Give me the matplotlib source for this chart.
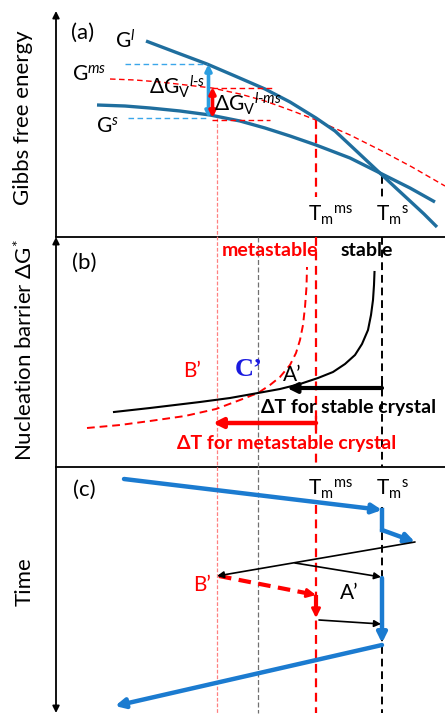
import matplotlib
matplotlib.use("Agg")
import matplotlib.pyplot as plt

plt.rcParams['font.family'] = ['Lato', 'DejaVu Sans']
plt.rcParams['mathtext.fontset'] = 'custom'
plt.rcParams['mathtext.rm'] = 'Lato'
plt.rcParams['mathtext.it'] = 'Lato:italic'
plt.rcParams['mathtext.bf'] = 'Lato:bold'

# ---------------- data (schematic; pixel-like units) ----------------
# (a) Gibbs free energy curves
gl_x = [146, 175, 207, 235, 265, 290, 316, 335, 350, 366, 382, 397, 410, 424, 437]
gl_y = [41, 52, 64, 76, 89, 102, 118, 131, 145, 160, 175, 189, 201, 214, 227]
gs_x = [97, 125, 150, 180, 210, 240, 265, 290, 316, 350, 382, 410, 435]
gs_y = [105, 106, 108, 111, 115, 121, 128, 136, 145, 158, 174, 188, 202]
gms_x = [110, 135, 160, 186, 212, 240, 265, 290, 316, 350, 380, 412, 445]
gms_y = [79, 80, 82, 85, 88, 94, 101, 110, 120, 135, 150, 167, 186]

# (b) nucleation barrier curves
stable_x = [114, 150, 200, 230, 258, 280, 300, 318, 333, 345, 355, 362, 368, 371, 373, 374, 374.5]
stable_y = [412, 408, 402, 398, 393, 389, 384, 378, 372, 364, 355, 344, 330, 315, 300, 285, 272]
meta_x = [87, 120, 150, 185, 216, 240, 258, 270, 280, 290, 296, 300, 303, 305, 306.5, 307]
meta_y = [428, 425, 421, 416, 409, 400, 393, 385, 377, 365, 353, 340, 325, 307, 287, 267]

# characteristic temperatures (x positions)
T_B = 216.5      # B'
T_C = 258        # C'
T_ms = 316       # Tm^ms
T_s = 382        # Tm^s

# (c) thermal history path (start, end) segments
blue_path = [((124, 479), (382, 510), True),
             ((382, 510), (382, 530), False),
             ((382, 530), (415, 542), True),
             ((382, 578), (382, 643), True),
             ((382, 645), (115, 706), True)]
black_path = [((415, 542), (217, 576)),
              ((295, 563), (381, 577)),
              ((319, 620), (381, 624))]
red_path = [((219, 576), (316, 595)),
            ((316, 595), (316, 618))]

# ---------------- figure ----------------
fig = plt.figure(figsize=(4.45, 7.17), dpi=100)
ax = fig.add_axes([0, 0, 1, 1])
ax.set_xlim(0, 445)
ax.set_ylim(717, 0)
ax.axis('off')

DARKBLUE = '#1f6e9e'
LIGHTBLUE = '#3aa6ea'
ARROWBLUE = '#2b9ee0'
CBLUE = '#1b7bd0'
RED = '#ff0000'
LIGHTRED = '#ff8080'


def arrow(p0, p1, color, lw, ms, style='-|>'):
    ax.annotate('', xy=p1, xytext=p0,
                arrowprops=dict(arrowstyle=style, color=color, lw=lw,
                                mutation_scale=ms, shrinkA=0, shrinkB=0))


# frame / axes
AXX = 56
ax.plot([AXX, 445], [237, 237], color='black', lw=1.3)
ax.plot([AXX, 445], [467, 467], color='black', lw=1.3)
arrow((AXX, 237), (AXX, 11), 'black', 1.3, 10)
arrow((AXX, 467), (AXX, 237), 'black', 1.3, 10)
arrow((AXX, 467), (AXX, 713), 'black', 1.3, 10)

# vertical guide lines
ax.plot([T_B, T_B], [118, 713], color=LIGHTRED, lw=0.9, dashes=(3, 1.5))
ax.plot([T_C, T_C], [237, 713], color='#707070', lw=0.9, dashes=(4, 2))
ax.plot([T_ms, T_ms], [120, 197], color=RED, lw=1.6, dashes=(4, 2.5))
ax.plot([T_ms, T_ms], [237, 467], color=RED, lw=1.6, dashes=(4, 2.5))
ax.plot([T_ms, T_ms], [505, 713], color=RED, lw=1.6, dashes=(4, 2.5))
ax.plot([T_s, T_s], [176, 197], color='black', lw=1.4, dashes=(4, 2.5))
ax.plot([T_s, T_s], [237, 467], color='black', lw=1.4, dashes=(4, 2.5))
ax.plot([T_s, T_s], [507, 713], color='black', lw=1.4, dashes=(4, 2.5))

# ---------------- panel (a) ----------------
ax.plot(gms_x, gms_y, color=RED, lw=1.0, dashes=(4, 2.5))
ax.plot(gl_x, gl_y, color=DARKBLUE, lw=2.4, solid_capstyle='butt')
ax.plot(gs_x, gs_y, color=DARKBLUE, lw=2.4, solid_capstyle='butt')

ax.plot([125, 207], [64, 64], color=LIGHTBLUE, lw=1.0, dashes=(4, 2.5))
ax.plot([128, 209], [118, 118], color=LIGHTBLUE, lw=1.0, dashes=(4, 2.5))
ax.plot([212, 272], [88, 88], color=RED, lw=1.0, dashes=(4, 2.5))
ax.plot([212, 270], [120, 120], color=RED, lw=1.0, dashes=(4, 2.5))
arrow((208.5, 118), (208.5, 64), ARROWBLUE, 2.6, 9, '<|-|>')
arrow((212.5, 118), (212.5, 87), RED, 2.6, 9, '<|-|>')

FS = 15
ax.text(83, 33, '(a)', fontsize=16, ha='center', va='center')
ax.text(115, 48, r'G$^{\mathit{l}}$', fontsize=FS, ha='left', va='baseline')
ax.text(72, 81, r'G$^{\mathit{ms}}$', fontsize=FS, ha='left', va='baseline')
ax.text(96, 133, r'G$^{\mathit{s}}$', fontsize=FS, ha='left', va='baseline')
ax.text(149, 95, r'$\Delta$G$_{\mathrm{V}}$$^{\mathit{l}\text{-}\mathit{s}}$', fontsize=FS,
        ha='left', va='baseline')
ax.text(214, 112, r'$\Delta$G$_{\mathrm{V}}$$^{\mathit{l}\text{-}\mathit{ms}}$', fontsize=FS,
        ha='left', va='baseline')
ax.text(308, 221, r'T$_{\mathrm{m}}$$^{\mathrm{ms}}$', fontsize=FS, ha='left', va='baseline')
ax.text(376, 221, r'T$_{\mathrm{m}}$$^{\mathrm{s}}$', fontsize=FS, ha='left', va='baseline')

# ---------------- panel (b) ----------------
ax.plot(meta_x, meta_y, color=RED, lw=1.4, dashes=(4, 2.5))
ax.plot(stable_x, stable_y, color='black', lw=1.5)
arrow((T_s, 388), (287, 388), 'black', 3.0, 14)
arrow((T_ms, 423), (213, 423), RED, 3.2, 14)
ax.plot([T_ms, T_ms], [417, 429], color=RED, lw=1.6)
ax.plot([T_s, T_s], [382, 394], color='black', lw=1.4)

ax.text(84, 263, '(b)', fontsize=16, ha='center', va='center')
ax.text(270, 251, 'metastable', fontsize=14, fontweight='bold', color=RED, ha='center', va='center')
ax.text(367, 251, 'stable', fontsize=14, fontweight='bold', color='black', ha='center', va='center')
ax.text(192, 371, "B\u2019", fontsize=FS, color=RED, ha='center', va='center')
ax.text(249, 370, "C\u2019", fontsize=19, color='#1a1adf', fontweight='bold',
        family='Liberation Serif', ha='center', va='center')
ax.text(292, 375, "A\u2019", fontsize=FS, color='black', ha='center', va='center')
ax.text(349, 407, "\u0394T for stable crystal", fontsize=14, fontweight='bold', ha='center', va='center')
ax.text(287, 443, "\u0394T for metastable crystal", fontsize=14, fontweight='bold', color=RED,
        ha='center', va='center')

# ---------------- panel (c) ----------------
for p0, p1, head in blue_path:
    if head:
        arrow(p0, p1, CBLUE, 3.2, 14)
    else:
        ax.plot([p0[0], p1[0]], [p0[1], p1[1]], color=CBLUE, lw=3.2)
for p0, p1 in black_path:
    arrow(p0, p1, 'black', 1.2, 10)
for p0, p1 in red_path:
    dx, dy = p1[0] - p0[0], p1[1] - p0[1]
    L = (dx ** 2 + dy ** 2) ** 0.5
    ux, uy = dx / L, dy / L
    mid = (p1[0] - ux * 8, p1[1] - uy * 8)
    ax.plot([p0[0], mid[0]], [p0[1], mid[1]], color=RED, lw=3.0, dashes=(3, 1.8))
    arrow(mid, p1, RED, 2.0, 13)

ax.text(84, 490, '(c)', fontsize=16, ha='center', va='center')
ax.text(308, 495, r'T$_{\mathrm{m}}$$^{\mathrm{ms}}$', fontsize=FS, ha='left', va='baseline')
ax.text(376, 495, r'T$_{\mathrm{m}}$$^{\mathrm{s}}$', fontsize=FS, ha='left', va='baseline')
ax.text(202, 585, "B\u2019", fontsize=FS, color=RED, ha='center', va='center')
ax.text(349, 593, "A\u2019", fontsize=FS, color='black', ha='center', va='center')

# y labels
ax.text(23, 118, 'Gibbs free energy', fontsize=16, rotation=90, ha='center', va='center')
ax.text(25, 350, r'Nucleation barrier $\Delta$G$^{*}$', fontsize=16, rotation=90,
        ha='center', va='center')
ax.text(25, 582, 'Time', fontsize=16, rotation=90, ha='center', va='center')

fig.savefig('out.png', dpi=100)
